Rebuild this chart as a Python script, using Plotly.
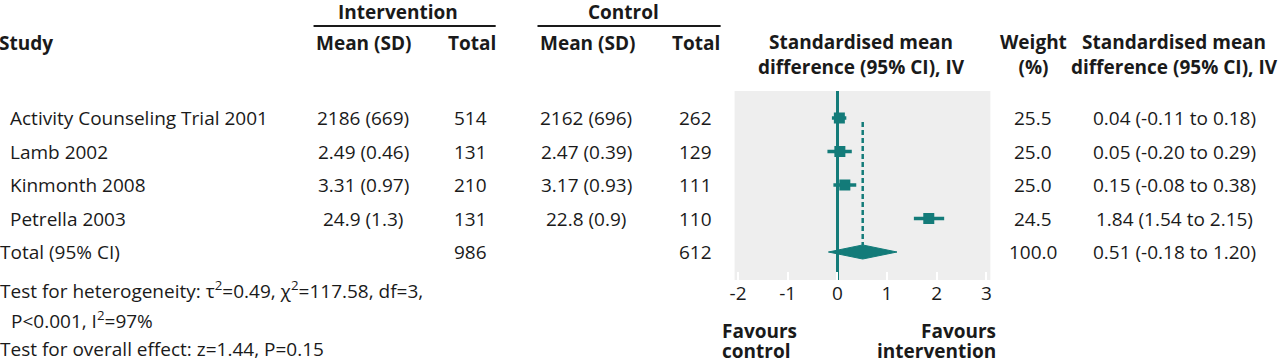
import plotly.graph_objects as go

# ---------------- data ----------------
studies = ["Activity Counseling Trial 2001", "Lamb 2002", "Kinmonth 2008", "Petrella 2003"]
int_mean_sd = ["2186 (669)", "2.49 (0.46)", "3.31 (0.97)", "24.9 (1.3)"]
int_total = [514, 131, 210, 131]
ctl_mean_sd = ["2162 (696)", "2.47 (0.39)", "3.17 (0.93)", "22.8 (0.9)"]
ctl_total = [262, 129, 111, 110]
weights = [25.5, 25.0, 25.0, 24.5]
smd = [0.04, 0.05, 0.15, 1.84]
ci_low = [-0.11, -0.20, -0.08, 1.54]
ci_high = [0.18, 0.29, 0.38, 2.15]

total_label = "Total (95% CI)"
total_int = 986
total_ctl = 612
total_weight = 100.0
total_smd = 0.51
total_low = -0.18
total_high = 1.20

x_ticks = [-2, -1, 0, 1, 2, 3]
heterogeneity_line1 = "Test for heterogeneity: τ<sup>2</sup>=0.49, χ<sup>2</sup>=117.58, df=3,"
heterogeneity_line2 = "P<0.001, I<sup>2</sup>=97%"
overall_effect = "Test for overall effect: z=1.44, P=0.15"

# ---------------- styling ----------------
W, H = 1280, 361
TEAL = "#137b79"
BG = "#eeeeee"
TXT = "#1a1a1a"
FONT = "Open Sans"
FS = 19


def px(x):
    return x / W


def py(y):
    return 1 - y / H


n = len(studies)
rows = list(range(n))
total_row = n

fig = go.Figure()

# study estimates with CIs
fig.add_trace(go.Scatter(
    x=smd, y=rows, mode="markers",
    marker=dict(symbol="square", size=11, color=TEAL),
    error_x=dict(type="data", symmetric=False,
                 array=[h - m for h, m in zip(ci_high, smd)],
                 arrayminus=[m - l for m, l in zip(smd, ci_low)],
                 color=TEAL, thickness=3.5, width=0),
    hoverinfo="skip", showlegend=False,
))

# pooled diamond
dh = 0.21
fig.add_trace(go.Scatter(
    x=[total_low, total_smd, total_high, total_smd, total_low],
    y=[total_row, total_row - dh, total_row, total_row + dh, total_row],
    mode="lines", fill="toself", fillcolor=TEAL,
    line=dict(color=TEAL, width=1), hoverinfo="skip", showlegend=False,
))

# dashed line at pooled estimate
fig.add_shape(type="line", xref="x", yref="y",
              x0=total_smd, x1=total_smd, y0=0.12, y1=total_row - dh,
              line=dict(color=TEAL, width=2.5, dash="5px,3px"))

ann = []


def add(text, x, y, anchor="left", bold=False, yref="paper", height=None):
    d = dict(
        text=f"<b>{text}</b>" if bold else text,
        x=px(x), y=y, xref="paper", yref=yref,
        xanchor=anchor, yanchor="middle", showarrow=False,
        font=dict(family=FONT, size=FS, color=TXT),
    )
    if height:
        d["height"] = height
    ann.append(d)


# header
add("Intervention", 395, py(12), "center", True)
add("Control", 621, py(12), "center", True)
add("Study", -8, py(43), "left", True)
add("Mean (SD)", 360, py(43), "center", True)
add("Total", 469, py(43), "center", True)
add("Mean (SD)", 585, py(43), "center", True)
add("Total", 694, py(43), "center", True)
add("Standardised mean<br>difference (95% CI), IV", 861, py(55), "center", True)
add("Weight<br>(%)", 1033, py(55), "center", True)
add("Standardised mean<br>difference (95% CI), IV", 1175, py(55), "center", True)

for sx0, sx1 in [(310, 493), (535, 719)]:
    fig.add_shape(type="line", xref="paper", yref="paper",
                  x0=px(sx0), x1=px(sx1), y0=py(26), y1=py(26),
                  line=dict(color=TXT, width=2))

# study rows
for i in rows:
    add(studies[i], 3, i, "left", yref="y")
    add(int_mean_sd[i], 360, i, "center", yref="y")
    add(str(int_total[i]), 468, i, "center", yref="y")
    add(ctl_mean_sd[i], 584, i, "center", yref="y")
    add(str(ctl_total[i]), 694, i, "center", yref="y")
    add(f"{weights[i]:.1f}", 1033, i, "center", yref="y")
    add(f"{smd[i]:.2f} ({ci_low[i]:.2f} to {ci_high[i]:.2f})", 1175, i, "center", yref="y")

# total row
add(total_label, -7, total_row, "left", yref="y")
add(str(total_int), 468, total_row, "center", yref="y")
add(str(total_ctl), 694, total_row, "center", yref="y")
add(f"{total_weight:.1f}", 1033, total_row, "center", yref="y")
add(f"{total_smd:.2f} ({total_low:.2f} to {total_high:.2f})", 1175, total_row, "center", yref="y")

# footer
add(heterogeneity_line1, -7, py(290), "left")
add(heterogeneity_line2, 4, py(320), "left")
add(overall_effect, -7, py(349), "left", height=22)
add("Favours", 718, py(330.5), "left", True, height=20)
add("control", 718, py(350.5), "left", True, height=20)
add("Favours", 998, py(330.5), "right", True, height=20)
add("intervention", 998, py(350.5), "right", True, height=20)

fig.update_layout(
    width=W, height=H,
    margin=dict(l=0, r=0, t=0, b=0),
    paper_bgcolor="white", plot_bgcolor=BG,
    annotations=ann,
    font=dict(family=FONT, size=FS, color=TXT),
    xaxis=dict(domain=[px(733), px(990)], range=[-2.07, 3.08],
               tickvals=x_ticks, ticktext=[str(t) for t in x_ticks],
               ticks="inside", ticklen=8, tickwidth=2, tickcolor="white",
               showgrid=False, zeroline=True, zerolinecolor=TEAL, zerolinewidth=2.5,
               showline=False, fixedrange=True,
               tickfont=dict(family=FONT, size=FS, color=TXT)),
    yaxis=dict(domain=[py(280), py(91)], range=[4.836, -0.806],
               showticklabels=False, showgrid=False, zeroline=False,
               ticks="", showline=False, fixedrange=True),
)

fig.write_html("out.html", config={"displayModeBar": False},
               post_script="document.body.style.margin='0';")
